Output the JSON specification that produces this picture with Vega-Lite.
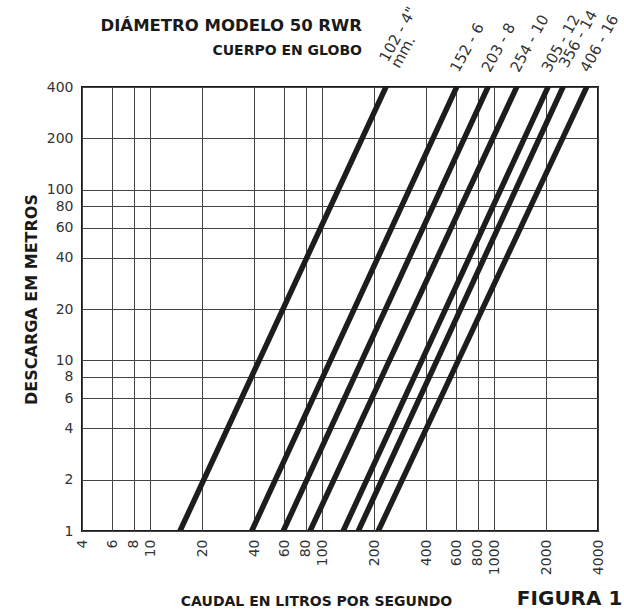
{
  "$schema": "https://vega.github.io/schema/vega-lite/v6.json",
  "width": 516,
  "height": 444,
  "autosize": {"type": "none"},
  "padding": {"left": 82, "top": 87, "right": 26, "bottom": 78},
  "background": "white",
  "config": {
    "view": {"stroke": "#1a1a1a", "strokeWidth": 2},
    "font": "DejaVu Sans"
  },
  "title": {
    "text": "DIÁMETRO MODELO 50 RWR",
    "subtitle": "CUERPO EN GLOBO",
    "anchor": "end",
    "frame": "group",
    "dx": -236,
    "offset": -53,
    "font": "DejaVu Sans",
    "fontSize": 16.5,
    "fontWeight": "bold",
    "color": "#1a1a1a",
    "subtitleFont": "DejaVu Sans",
    "subtitleFontSize": 14,
    "subtitleFontWeight": "bold",
    "subtitleColor": "#1a1a1a",
    "subtitlePadding": 9
  },
  "datasets": {
    "curves": [
      {"diam": "102 - 4\"\nmm.", "Q": 14.85, "H": 1},
      {"diam": "102 - 4\"\nmm.", "Q": 234, "H": 400},
      {"diam": "152 - 6", "Q": 38.8, "H": 1},
      {"diam": "152 - 6", "Q": 603, "H": 400},
      {"diam": "203 - 8", "Q": 59.2, "H": 1},
      {"diam": "203 - 8", "Q": 917, "H": 400},
      {"diam": "254 - 10", "Q": 84.7, "H": 1},
      {"diam": "254 - 10", "Q": 1347, "H": 400},
      {"diam": "305 - 12", "Q": 132, "H": 1},
      {"diam": "305 - 12", "Q": 2048, "H": 400},
      {"diam": "356 - 14", "Q": 161.6, "H": 1},
      {"diam": "356 - 14", "Q": 2504, "H": 400},
      {"diam": "406 - 16", "Q": 211, "H": 1},
      {"diam": "406 - 16", "Q": 3438, "H": 400}
    ],
    "caption": [{"caption": "FIGURA 1"}]
  },
  "data": {"name": "curves"},
  "layer": [
    {
      "mark": {"type": "line", "strokeWidth": 5.5, "color": "#1d1d1d", "clip": true, "strokeCap": "square"},
      "encoding": {
        "x": {
          "field": "Q",
          "type": "quantitative",
          "scale": {"type": "log", "domain": [4, 4000], "nice": false},
          "axis": {
            "title": "CAUDAL EN LITROS POR SEGUNDO",
            "values": [4, 6, 8, 10, 20, 40, 60, 80, 100, 200, 400, 600, 800, 1000, 2000, 4000],
            "format": "d",
            "labelAngle": -90,
            "labelPadding": 8,
            "labelOverlap": false,
            "labelFlush": false,
            "labelBound": false,
            "labelFont": "DejaVu Sans",
            "labelFontSize": 14,
            "labelColor": "#333333",
            "ticks": false,
            "domain": false,
            "grid": true,
            "gridColor": "#444444",
            "gridWidth": 1,
            "gridOpacity": 1,
            "titleFont": "DejaVu Sans",
            "titleFontSize": 14,
            "titleFontWeight": "bold",
            "titleColor": "#1a1a1a",
            "titleX": 234,
            "titleY": 74,
            "titleBaseline": "alphabetic"
          }
        },
        "y": {
          "field": "H",
          "type": "quantitative",
          "scale": {"type": "log", "domain": [1, 400], "nice": false},
          "axis": {
            "title": "DESCARGA EM METROS",
            "values": [1, 2, 4, 6, 8, 10, 20, 40, 60, 80, 100, 200, 400],
            "format": "d",
            "labelPadding": 9,
            "labelOverlap": false,
            "labelFlush": false,
            "labelBound": false,
            "labelFont": "DejaVu Sans",
            "labelFontSize": 14,
            "labelColor": "#333333",
            "ticks": false,
            "domain": false,
            "grid": true,
            "gridColor": "#444444",
            "gridWidth": 1,
            "gridOpacity": 1,
            "titleFont": "DejaVu Sans",
            "titleFontSize": 16,
            "titleFontWeight": "bold",
            "titleColor": "#1a1a1a",
            "titleX": -46,
            "titleY": 212,
            "titleBaseline": "alphabetic"
          }
        },
        "detail": {"field": "diam"}
      }
    },
    {
      "transform": [{"filter": {"and": [{"field": "H", "equal": 400}, {"field": "diam", "oneOf": ["152 - 6", "203 - 8", "254 - 10", "305 - 12", "406 - 16"]}]}}],
      "mark": {"type": "text", "font": "DejaVu Sans", "fontSize": 15, "color": "#333333", "angle": 299, "align": "left", "baseline": "alphabetic", "dx": 13, "dy": -5},
      "encoding": {
        "x": {"field": "Q", "type": "quantitative"},
        "y": {"field": "H", "type": "quantitative"},
        "text": {"field": "diam"}
      }
    },
    {
      "transform": [{"filter": {"and": [{"field": "H", "equal": 400}, {"field": "diam", "oneOf": ["356 - 14"]}]}}],
      "mark": {"type": "text", "font": "DejaVu Sans", "fontSize": 15, "color": "#333333", "angle": 299, "align": "left", "baseline": "alphabetic", "dx": 18, "dy": -5},
      "encoding": {
        "x": {"field": "Q", "type": "quantitative"},
        "y": {"field": "H", "type": "quantitative"},
        "text": {"field": "diam"}
      }
    },
    {
      "transform": [{"filter": {"and": [{"field": "H", "equal": 400}, {"field": "diam", "oneOf": ["102 - 4\"\nmm."]}]}}],
      "mark": {"type": "text", "font": "DejaVu Sans", "fontSize": 15, "color": "#333333", "angle": 299, "align": "left", "baseline": "alphabetic", "dx": 22, "dy": -10, "lineBreak": "\n", "lineHeight": 13},
      "encoding": {
        "x": {"field": "Q", "type": "quantitative"},
        "y": {"field": "H", "type": "quantitative"},
        "text": {"field": "diam"}
      }
    },
    {
      "data": {"name": "caption"},
      "mark": {"type": "text", "font": "DejaVu Sans", "fontSize": 20, "fontWeight": "bold", "color": "#1a1a1a", "align": "left", "baseline": "alphabetic", "dy": 74, "clip": false},
      "encoding": {
        "x": {"datum": 1350, "type": "quantitative"},
        "y": {"datum": 1, "type": "quantitative"},
        "text": {"field": "caption", "type": "nominal"}
      }
    }
  ]
}
